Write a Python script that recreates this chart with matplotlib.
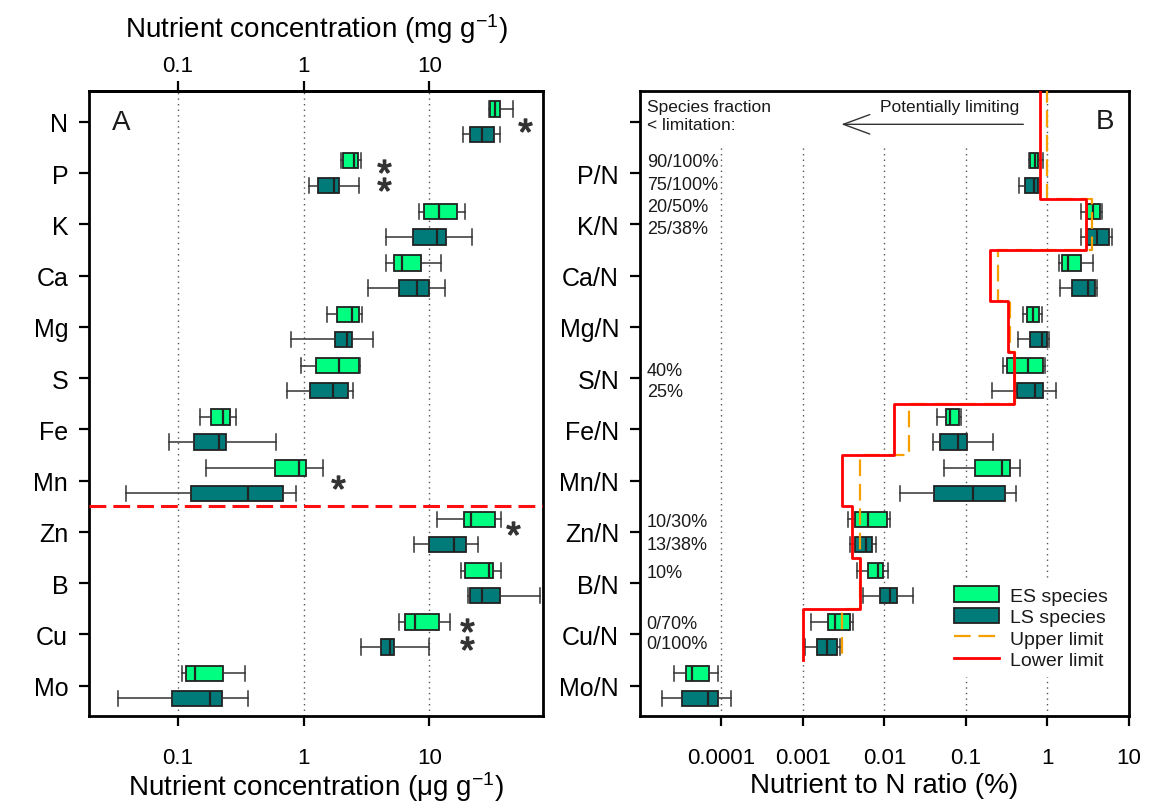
import matplotlib.pyplot as plt
from matplotlib.patches import Patch
from matplotlib.lines import Line2D

plt.rcParams['font.family'] = ['Liberation Sans', 'DejaVu Sans']
plt.rcParams['mathtext.fontset'] = 'custom'
plt.rcParams['mathtext.rm'] = 'Liberation Sans'
plt.rcParams['mathtext.it'] = 'Liberation Sans:italic'
plt.rcParams['mathtext.bf'] = 'Liberation Sans:bold'
plt.rcParams['text.color'] = '#1a1a1a'

ES_COLOR = '#00FF80'
LS_COLOR = '#007B7A'
EDGE = '#222222'

elements = ['N', 'P', 'K', 'Ca', 'Mg', 'S', 'Fe', 'Mn', 'Zn', 'B', 'Cu', 'Mo']
ratio_labels = ['', 'P/N', 'K/N', 'Ca/N', 'Mg/N', 'S/N', 'Fe/N', 'Mn/N', 'Zn/N', 'B/N', 'Cu/N', 'Mo/N']

# whisker low, Q1, median, Q3, whisker high  (mg/g for N..Mn, ug/g for Zn..Mo)
conc_es = [
    [29.8, 30.5, 33.0, 36.1, 46.2],
    [1.98, 2.06, 2.50, 2.69, 2.87],
    [8.31, 9.0, 12.0, 16.6, 19.3],
    [4.49, 5.23, 6.09, 8.62, 12.4],
    [1.53, 1.86, 2.43, 2.74, 2.93],
    [0.953, 1.26, 1.90, 2.74, 2.82],
    [0.151, 0.184, 0.229, 0.261, 0.288],
    [0.169, 0.588, 0.912, 1.045, 1.44],
    [11.6, 18.7, 21.4, 33.4, 37.3],
    [17.9, 19.3, 29.6, 32.0, 37.3],
    [5.76, 6.35, 7.62, 11.9, 14.5],
    [0.109, 0.116, 0.136, 0.229, 0.344],
]
conc_ls = [
    [18.4, 21.1, 26.2, 32.8, 36.6],
    [1.10, 1.31, 1.76, 1.93, 2.74],
    [4.49, 7.41, 11.5, 13.6, 21.9],
    [3.25, 5.69, 7.97, 9.86, 13.4],
    [0.80, 1.79, 2.21, 2.43, 3.56],
    [0.738, 1.13, 1.70, 2.25, 2.47],
    [0.0845, 0.135, 0.213, 0.243, 0.604],
    [0.0388, 0.127, 0.365, 0.686, 0.875],
    [7.49, 10.0, 15.8, 19.5, 24.2],
    [20.1, 20.9, 26.2, 36.6, 76.1],
    [2.86, 4.12, 4.83, 5.26, 9.86],
    [0.0332, 0.090, 0.181, 0.224, 0.359],
]

# nutrient to N ratios (%), P/N .. Mo/N
ratio_es = [
    [0.593, 0.610, 0.697, 0.764, 0.891],
    [2.61, 3.03, 3.66, 4.40, 4.71],
    [1.38, 1.52, 1.78, 2.55, 3.66],
    [0.500, 0.567, 0.664, 0.787, 0.866],
    [0.284, 0.322, 0.583, 0.891, 0.931],
    [0.0438, 0.0569, 0.0637, 0.0830, 0.0879],
    [0.0537, 0.128, 0.280, 0.344, 0.460],
    [0.00361, 0.00436, 0.00628, 0.01065, 0.0117],
    [0.00456, 0.00628, 0.00834, 0.0097, 0.0110],
    [0.00127, 0.00203, 0.00245, 0.00375, 0.00411],
    [2.62e-5, 3.67e-5, 4.40e-5, 7.04e-5, 9.08e-5],
]
ratio_ls = [
    [0.452, 0.530, 0.683, 0.764, 0.787],
    [2.55, 3.03, 4.09, 5.68, 6.13],
    [1.42, 2.02, 3.14, 3.83, 4.01],
    [0.440, 0.610, 0.866, 0.997, 1.03],
    [0.211, 0.419, 0.697, 0.873, 1.26],
    [0.0394, 0.0480, 0.0798, 0.102, 0.214],
    [0.0155, 0.0405, 0.123, 0.299, 0.415],
    [0.00375, 0.00436, 0.00589, 0.00711, 0.00796],
    [0.00546, 0.00881, 0.0117, 0.0144, 0.0224],
    [0.00105, 0.00148, 0.00196, 0.00265, 0.00285],
    [1.89e-5, 3.32e-5, 6.92e-5, 9.08e-5, 1.30e-4],
]

# limitation thresholds (%), rows N..Cu
lower_limit = [0.8, 0.8, 3.0, 0.2, 0.33, 0.39, 0.013, 0.003, 0.004, 0.005, 0.001]
upper_limit = [1.0, 1.0, 3.5, 0.25, 0.35, 0.4, 0.02, 0.005, 0.005, 0.005, 0.003]

# significance markers in panel A
star_x = [57.9, 4.38, 4.38, 1.89, 46.4, 20.0, 20.0]
star_y = [1.06, 1.87, 2.21, 8.02, 8.92, 10.82, 11.16]

# species fraction below limitation
frac_text = ['90/100%', '75/100%', '20/50%', '25/38%', '40%', '25%',
             '10/30%', '13/38%', '10%', '0/70%', '0/100%']
frac_y = [1.864, 2.306, 2.748, 3.17, 5.945, 6.347, 8.881, 9.324, 9.876, 10.87, 11.27]


def draw_boxes(ax, summaries, positions, color):
    stats = [dict(whislo=s[0], q1=s[1], med=s[2], q3=s[3], whishi=s[4], fliers=[])
             for s in summaries]
    ax.bxp(stats, positions=positions, widths=0.3, capwidths=0.3,
           orientation='horizontal', patch_artist=True, manage_ticks=False,
           boxprops=dict(facecolor=color, edgecolor=EDGE, linewidth=1.3),
           medianprops=dict(color=EDGE, linewidth=1.6),
           whiskerprops=dict(color='#333333', linewidth=1.1),
           capprops=dict(color='#333333', linewidth=1.1))


def step_path(values):
    xs, ys = [], []
    for i, v in enumerate(values):
        pos = i + 1
        xs += [v, v]
        ys += [0.3 if i == 0 else pos - 0.5, pos + 0.5]
    return xs, ys


def style_axes(ax):
    for sp in ax.spines.values():
        sp.set_linewidth(2)
    ax.tick_params(axis='both', which='major', direction='out', length=7, width=1.6)
    ax.tick_params(axis='x', labelsize=16, pad=15)
    ax.tick_params(axis='y', labelsize=18, pad=8)
    ax.tick_params(which='minor', length=0)
    ax.set_ylim(12.59, 0.4)


fig = plt.figure(figsize=(11.71, 8.04), dpi=100)
axA = fig.add_axes([0.0760, 0.1082, 0.3877, 0.7774])
axB = fig.add_axes([0.5465, 0.1082, 0.4176, 0.7774])

# ---- panel A: concentrations ----
axA.set_xscale('log')
axA.set_xlim(0.0197, 80)
for gx in [0.1, 1, 10]:
    axA.axvline(gx, color='#555555', lw=1, ls=(0, (1, 3)), zorder=0.5)
pos = list(range(1, len(elements) + 1))
draw_boxes(axA, conc_es, [p - 0.245 for p in pos], ES_COLOR)
draw_boxes(axA, conc_ls, [p + 0.245 for p in pos], LS_COLOR)
axA.axhline(8.5, color='#FF1010', lw=2.2, dashes=(5.5, 2.3), zorder=3)
axA.plot(star_x, star_y, ls='none', marker='$*$', ms=9.5, color='#333333')
axA.set_yticks(pos, elements)
axA.set_xticks([0.1, 1, 10], ['0.1', '1', '10'])
axA.set_xlabel('Nutrient concentration (\u03bcg g$^{-1}$)', fontsize=20, labelpad=1)
style_axes(axA)
top = axA.secondary_xaxis('top')
top.set_xticks([0.1, 1, 10], ['0.1', '1', '10'])
top.xaxis.set_minor_locator(plt.NullLocator())
top.tick_params(axis='x', direction='out', length=7, width=1.6, labelsize=16, pad=4)
top.spines['top'].set_linewidth(2)
top.set_xlabel('Nutrient concentration (mg g$^{-1}$)', fontsize=20, labelpad=13)
axA.text(0.072, 1.136, 'A', transform=axA.get_yaxis_transform(), fontsize=20,
         ha='center', va='baseline')

# ---- panel B: ratios to N ----
axB.set_xscale('log')
axB.set_xlim(1e-5, 10)
for gx in [1e-4, 1e-3, 1e-2, 0.1]:
    axB.axvline(gx, ymax=0.915, color='#555555', lw=1, ls=(0, (1, 3)), zorder=0.5)
axB.axvline(1, color='#555555', lw=1, ls=(0, (1, 3)), zorder=0.5)
rpos = list(range(2, len(elements) + 1))
draw_boxes(axB, ratio_es, [p - 0.245 for p in rpos], ES_COLOR)
draw_boxes(axB, ratio_ls, [p + 0.245 for p in rpos], LS_COLOR)
ux, uy = step_path(upper_limit)
lx, ly = step_path(lower_limit)
axB.plot(ux, uy, color='#F5A000', lw=1.6, dashes=(7.5, 3.5), zorder=4)
axB.plot(lx, ly, color='#FF0000', lw=2, zorder=5)
axB.set_yticks(pos, ratio_labels)
axB.set_xticks([1e-4, 1e-3, 1e-2, 0.1, 1, 10],
               ['0.0001', '0.001', '0.01', '0.1', '1', '10'])
axB.set_xlabel('Nutrient to N ratio (%)', fontsize=20, labelpad=3)
style_axes(axB)

tr = axB.get_yaxis_transform()
axB.text(0.0137, 0.79, 'Species fraction', transform=tr, fontsize=12.5, va='baseline')
axB.text(0.0137, 1.15, '< limitation:', transform=tr, fontsize=12.5, va='baseline')
axB.text(0.447, 0.79, 'Potentially limiting', fontsize=12.5, ha='right', va='baseline')
axB.annotate('', xy=(0.00296, 1.05), xytext=(0.506, 1.05),
             arrowprops=dict(arrowstyle='->, head_length=1.9, head_width=0.7',
                             lw=1, color='#333333', shrinkA=0, shrinkB=0))
axB.text(0.952, 1.123, 'B', transform=tr, fontsize=20, ha='center', va='baseline')
for label, y in zip(frac_text, frac_y):
    axB.text(0.0137, y, label, transform=tr, fontsize=13, va='baseline')

handles = [
    Patch(facecolor=ES_COLOR, edgecolor=EDGE, linewidth=1.3, label='ES species'),
    Patch(facecolor=LS_COLOR, edgecolor=EDGE, linewidth=1.3, label='LS species'),
    Line2D([], [], color='#F5A000', lw=1.6, dashes=(7.5, 3.5), label='Upper limit'),
    Line2D([], [], color='#FF0000', lw=2, label='Lower limit'),
]
leg = axB.legend(handles=handles, loc='upper left', bbox_to_anchor=(0.626, 0.2204),
                 borderaxespad=0, fontsize=14, handlelength=2.3, handleheight=0.87,
                 handletextpad=0.57, labelspacing=0.15, frameon=True, fancybox=False,
                 edgecolor='none', facecolor='white', framealpha=1)
leg.set_zorder(6)

fig.savefig('out.png', dpi=100)
